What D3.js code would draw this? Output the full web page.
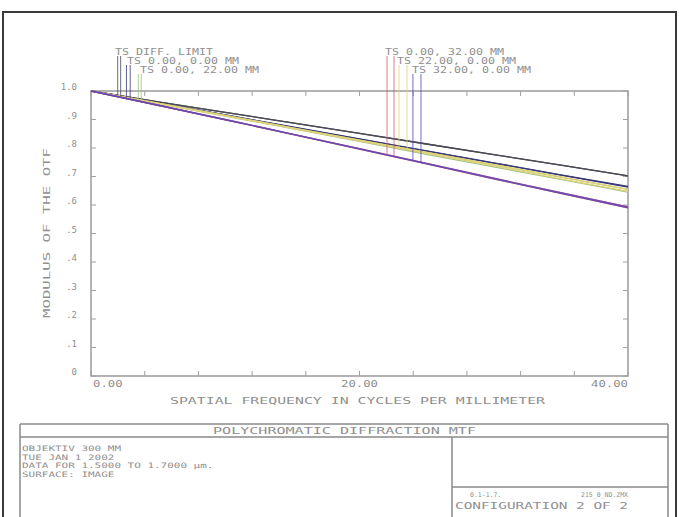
<!DOCTYPE html>
<html><head><meta charset="utf-8">
<script src="https://cdn.jsdelivr.net/npm/d3@7"></script>
<style>
html,body{margin:0;padding:0;background:#fff;}
svg{display:block;}
text{font-family:"DejaVu Sans Mono",monospace;fill:#8f8f8f;}
</style></head><body>
<svg id="c" width="679" height="517"></svg>
<script>
// ---- data ----
const freqs = [0, 5, 10, 15, 20, 25, 30, 35, 40];
const diffT   = [1, .962, .925, .888, .851, .814, .777, .740, .702];
const f00T    = [1, .958, .916, .874, .832, .790, .748, .706, .665];
const f00S    = [1, .958, .916, .873, .831, .789, .747, .705, .663];
const f022T   = [1, .957, .914, .871, .828, .785, .741, .698, .655];
const f022S   = [1, .956, .912, .868, .823, .778, .734, .690, .645];
const f032T   = [1, .950, .899, .848, .796, .744, .692, .641, .590];
const f032S   = [1, .950, .900, .849, .798, .746, .694, .643, .593];
const f220T   = [1, .957, .914, .871, .828, .785, .742, .699, .655];
const f220S   = [1, .956, .913, .869, .825, .781, .737, .692, .648];
const f320T   = [1, .950, .899, .848, .796, .744, .692, .641, .590];
const f320S   = [1, .950, .900, .849, .798, .746, .694, .643, .593];

const legendNames = ["TS DIFF. LIMIT", "TS 0.00, 0.00 MM", "TS 0.00, 22.00 MM",
                     "TS 0.00, 32.00 MM", "TS 22.00, 0.00 MM", "TS 32.00, 0.00 MM"];
const markerFreqs = [[1.99, 2.21], [2.64, 2.92], [3.52, 3.74],
                     [22.05, 22.57], [22.94, 23.54], [23.98, 24.58]];
const yTickLabels = ["0", ".1", ".2", ".3", ".4", ".5", ".6", ".7", ".8", ".9", "1.0"];
const xTickLabels = ["0.00", "20.00", "40.00"];
const infoLines = ["OBJEKTIV 300 MM", "TUE JAN 1 2002", "DATA FOR 1.5000 TO 1.7000 µm.", "SURFACE: IMAGE"];

const fields = [
  {name: legendNames[0], color: "#4a4a55", T: diffT, S: diffT, m: markerFreqs[0]},
  {name: legendNames[1], color: "#3a3a78", T: f00T,  S: f00S,  m: markerFreqs[1]},
  {name: legendNames[2], color: "#9cc47a", T: f022T, S: f022S, m: markerFreqs[2]},
  {name: legendNames[3], color: "#d85a70", T: f032T, S: f032S, m: markerFreqs[3]},
  {name: legendNames[4], color: "#e2d27a", T: f220T, S: f220S, m: markerFreqs[4]},
  {name: legendNames[5], color: "#5a4ab8", T: f320T, S: f320S, m: markerFreqs[5]}
];

// ---- layout ----
const svg = d3.select("#c");
const L = 91, R = 628, T = 91, B = 376;
const x = d3.scaleLinear().domain([0, 40]).range([L, R]);
const y = d3.scaleLinear().domain([0, 1]).range([B, T]);

// outer frame
svg.append("rect").attr("x", 3).attr("y", 12).attr("width", 673).attr("height", 510)
  .attr("fill", "none").attr("stroke", "#3a3a3a").attr("stroke-width", 2);

// plot frame
svg.append("rect").attr("x", L).attr("y", T).attr("width", R - L).attr("height", B - T)
  .attr("fill", "none").attr("stroke", "#9a9a9a").attr("stroke-width", 1.5);

// ticks (inward)
const yt = d3.range(0, 1.0001, 0.1);
const xt = d3.range(0, 40.001, 4);
const tk = svg.append("g").attr("stroke", "#a0a0a0").attr("stroke-width", 1);
yt.forEach(v => {
  tk.append("line").attr("x1", L).attr("x2", L + 5).attr("y1", y(v)).attr("y2", y(v));
  tk.append("line").attr("x1", R - 5).attr("x2", R).attr("y1", y(v)).attr("y2", y(v));
});
xt.forEach(v => {
  tk.append("line").attr("x1", x(v)).attr("x2", x(v)).attr("y1", B).attr("y2", B - 5);
  tk.append("line").attr("x1", x(v)).attr("x2", x(v)).attr("y1", T).attr("y2", T + 5);
});

// y tick labels
yTickLabels.forEach((t, i) => {
  svg.append("text").attr("x", 77).attr("y", y(i / 10) - 1).attr("text-anchor", "end")
    .attr("font-size", 9).text(t);
});
// x tick labels
[0, 20, 40].forEach((v, i) => {
  const anchor = i === 0 ? "start" : (i === 1 ? "middle" : "end");
  svg.append("text").attr("x", x(v) + (i === 0 ? 2 : 0)).attr("y", 387)
    .attr("text-anchor", anchor).attr("font-size", 9)
    .attr("textLength", xTickLabels[i].length * 7.4).attr("lengthAdjust", "spacingAndGlyphs")
    .text(xTickLabels[i]);
});

// axis titles
svg.append("text").attr("x", 170).attr("y", 404).attr("font-size", 9)
  .attr("textLength", 375).attr("lengthAdjust", "spacingAndGlyphs")
  .text("SPATIAL FREQUENCY IN CYCLES PER MILLIMETER");
svg.append("text").attr("transform", "translate(50,318) rotate(-90)").attr("font-size", 9)
  .attr("textLength", 170).attr("lengthAdjust", "spacingAndGlyphs")
  .text("MODULUS OF THE OTF");

// curves
const line = d3.line().x((d, i) => x(freqs[i])).y(d => y(d));
const order = [0, 1, 2, 4, 3, 5];
order.forEach(k => {
  const f = fields[k];
  [f.T, f.S].forEach(arr => {
    svg.append("path").attr("d", line(arr)).attr("fill", "none")
      .attr("stroke", f.color).attr("stroke-width", 1.3).attr("opacity", k === 5 ? 0.75 : 1);
  });
});

// legend labels and markers
const interp = (arr, fr) => {
  const i = Math.min(freqs.length - 2, Math.floor(fr / 5));
  const t = (fr - freqs[i]) / (freqs[i + 1] - freqs[i]);
  return arr[i] + (arr[i + 1] - arr[i]) * t;
};
const labelX = [115, 127, 140, 385, 397, 412];
const rowY = [55, 64, 73];
fields.forEach((f, k) => {
  const row = k % 3;
  const w = f.name.length * 7.0;
  svg.append("text").attr("x", labelX[k]).attr("y", rowY[row]).attr("font-size", 8.5)
    .attr("textLength", w).attr("lengthAdjust", "spacingAndGlyphs").text(f.name);
  [f.T, f.S].forEach((arr, j) => {
    const fr = f.m[j];
    svg.append("line").attr("x1", x(fr)).attr("x2", x(fr))
      .attr("y1", rowY[row] + 1).attr("y2", y(interp(arr, fr)))
      .attr("stroke", f.color).attr("stroke-width", 1).attr("opacity", 0.8);
  });
});

// bottom info box
const bx = svg.append("g").attr("stroke", "#8a8a8a").attr("stroke-width", 1.5).attr("fill", "none");
bx.append("line").attr("x1", 20).attr("x2", 668).attr("y1", 424).attr("y2", 424);
bx.append("line").attr("x1", 20).attr("x2", 668).attr("y1", 437).attr("y2", 437);
bx.append("line").attr("x1", 20).attr("x2", 20).attr("y1", 424).attr("y2", 517);
bx.append("line").attr("x1", 668).attr("x2", 668).attr("y1", 424).attr("y2", 517);
bx.append("line").attr("x1", 452).attr("x2", 452).attr("y1", 437).attr("y2", 517);
bx.append("line").attr("x1", 452).attr("x2", 668).attr("y1", 487).attr("y2", 487);

svg.append("text").attr("x", 213).attr("y", 434).attr("font-size", 9)
  .attr("textLength", 263).attr("lengthAdjust", "spacingAndGlyphs")
  .text("POLYCHROMATIC DIFFRACTION MTF");
infoLines.forEach((t, i) => {
  svg.append("text").attr("x", 22).attr("y", 451 + i * 8.6).attr("font-size", 7.4)
    .attr("textLength", t.length * 6.6).attr("lengthAdjust", "spacingAndGlyphs").text(t);
});
svg.append("text").attr("x", 470).attr("y", 497).attr("font-size", 6.5).text("0.1-1.7.");
svg.append("text").attr("x", 628).attr("y", 497).attr("font-size", 6.5).attr("text-anchor", "end").text("215_0_ND.ZMX");
svg.append("text").attr("x", 455).attr("y", 509).attr("font-size", 9)
  .attr("textLength", 173).attr("lengthAdjust", "spacingAndGlyphs")
  .text("CONFIGURATION 2 OF 2");
</script></body></html>
